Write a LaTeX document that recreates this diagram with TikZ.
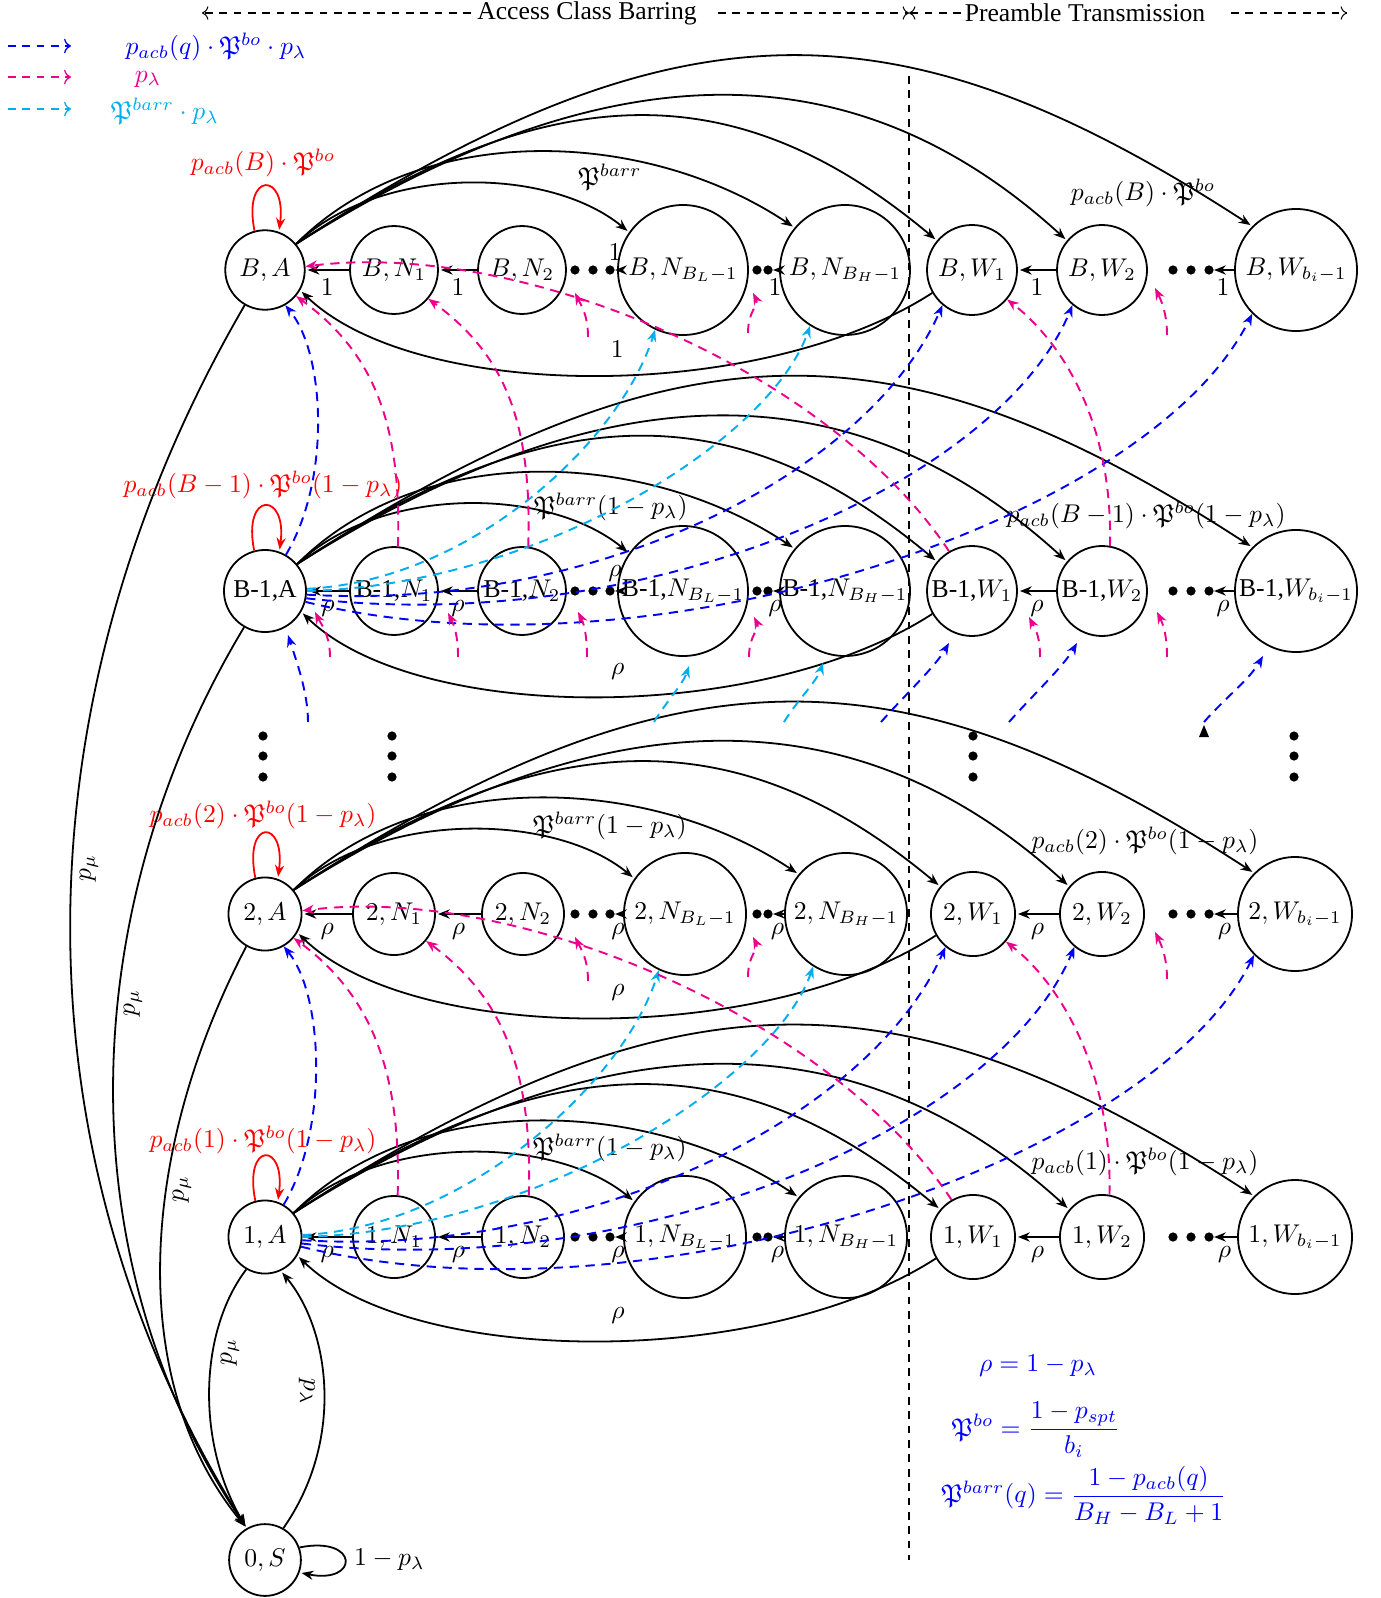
\documentclass[tikz,border=0pt]{standalone}
\usepackage{amsmath,amssymb}
\usepackage[no-math]{fontspec}
\setmainfont{Liberation Serif}
\usetikzlibrary{arrows.meta}
\definecolor{mblue}{RGB}{0,0,255}
\definecolor{mmag}{RGB}{236,0,140}
\definecolor{mcyan}{RGB}{0,174,239}
\tikzset{
  stt/.style={circle,draw,line width=0.7pt,inner sep=0pt},
  zA/.style={stt,minimum size=31pt},
  zN/.style={stt,minimum size=34.3pt},
  zL/.style={stt,minimum size=50.7pt},
  zW/.style={stt,minimum size=35.1pt},
  zX/.style={stt,minimum size=47.6pt},
  yA/.style={stt,minimum size=28.5pt},
  yN/.style={stt,minimum size=32pt},
  yL/.style={stt,minimum size=47.6pt},
  yW/.style={stt,minimum size=32.8pt},
  yX/.style={stt,minimum size=44.5pt},
  arr/.style={line width=0.7pt,-{Stealth[length=4.6pt,width=3.6pt]},shorten >=0.8pt},
  dsh/.style={line width=0.75pt,dash pattern=on 3.6pt off 2.6pt,-{Stealth[length=4.6pt,width=3.6pt]}},
  dm/.style={dsh,mmag},
  db/.style={dsh,mblue},
  dc/.style={dsh,mcyan},
  hd/.style={line width=0.4pt,dash pattern=on 3pt off 2.6pt},
  lgd/.style={line width=0.5pt,dash pattern=on 3pt off 2.6pt,->},
  lbl/.style={inner sep=1pt},
}
\begin{document}
\begin{tikzpicture}[x=0.39pt,y=-0.39pt]
\useasboundingbox (0,0) rectangle (1380,1598);

% ---------- header ----------
\node[lbl] (acb) at (587,13) {Access Class Barring};
\node[lbl] (prt) at (1085,13) {Preamble Transmission};
\coordinate (h1) at (202,13); \coordinate (h2) at (471,13);
\coordinate (h3) at (718,13); \coordinate (hm) at (909,13);
\coordinate (h4) at (961,13); \coordinate (h5) at (1231,13);
\coordinate (h6) at (1347,13);
\draw[hd,->] (h2) -- (h1);
\draw[hd,->] (h3) -- (hm);
\draw[hd,->] (h4) -- (hm);
\draw[hd,->] (h5) -- (h6);
\coordinate (vt) at (909,76); \coordinate (vb) at (909,1560);
\draw[hd] (vt) -- (vb);

% ---------- legend ----------
\coordinate (l1a) at (8,46);  \coordinate (l1b) at (71,46);
\coordinate (l2a) at (8,77);  \coordinate (l2b) at (71,77);
\coordinate (l3a) at (8,109); \coordinate (l3b) at (71,109);
\draw[lgd,mblue] (l1a) -- (l1b);
\draw[lgd,mmag] (l2a) -- (l2b);
\draw[lgd,mcyan] (l3a) -- (l3b);
\node[mblue,lbl] (lg1) at (216,47) {$p_{acb}(q)\cdot\mathfrak{P}^{bo}\cdot p_\lambda$};
\node[mmag,lbl] (lg2) at (148,79) {$p_\lambda$};
\node[mcyan,lbl] (lg3) at (165,111) {$\mathfrak{P}^{barr}\cdot p_\lambda$};

% ---------- states ----------
\node[zA] (bA)  at (265,270) {$B,A$};
\node[zN] (bN1) at (394,270) {$B,N_1$};
\node[zN] (bN2) at (522,270) {$B,N_2$};
\node[zL] (bL)  at (683,270) {$B,N_{B_L-1}$};
\node[zL] (bH)  at (845,270) {$B,N_{B_H-1}$};
\node[zW] (bW1) at (972,270) {$B,W_1$};
\node[zW] (bW2) at (1102,270) {$B,W_2$};
\node[zX] (bX)  at (1296,270) {$B,W_{b_i-1}$};

\node[zA,minimum size=32pt] (cA) at (265,591) {B-1,A};
\node[zN] (cN1) at (394,591) {B-1,$N_1$};
\node[zN] (cN2) at (522,591) {B-1,$N_2$};
\node[zL] (cL)  at (683,591) {B-1,$N_{B_L-1}$};
\node[zL] (cH)  at (845,591) {B-1,$N_{B_H-1}$};
\node[zW] (cW1) at (972,591) {B-1,$W_1$};
\node[zW] (cW2) at (1102,591) {B-1,$W_2$};
\node[zX] (cX)  at (1296,591) {B-1,$W_{b_i-1}$};

\node[yA] (tA)  at (265,914) {$2,A$};
\node[yN] (tN1) at (394,914) {$2,N_1$};
\node[yN] (tN2) at (523,914) {$2,N_2$};
\node[yL] (tL)  at (685,914) {$2,N_{B_L-1}$};
\node[yL] (tH)  at (846,914) {$2,N_{B_H-1}$};
\node[yW] (tW1) at (973,914) {$2,W_1$};
\node[yW] (tW2) at (1102,914) {$2,W_2$};
\node[yX] (tX)  at (1295,914) {$2,W_{b_i-1}$};

\node[yA] (oA)  at (265,1237) {$1,A$};
\node[yN] (oN1) at (394,1237) {$1,N_1$};
\node[yN] (oN2) at (523,1237) {$1,N_2$};
\node[yL] (oL)  at (685,1237) {$1,N_{B_L-1}$};
\node[yL] (oH)  at (846,1237) {$1,N_{B_H-1}$};
\node[yW] (oW1) at (973,1237) {$1,W_1$};
\node[yW] (oW2) at (1102,1237) {$1,W_2$};
\node[yX] (oX)  at (1295,1237) {$1,W_{b_i-1}$};

\node[stt,minimum size=28pt] (S) at (265,1560) {$0,S$};

% ---------- dots ----------
\foreach \rw/\y in {b/270,c/591,t/914,o/1237}{
  \foreach \x in {575,593,610,757,768,1173,1191,1209}
    \fill (\x,\y) circle[radius=1.8pt];
  \coordinate (\rw d1) at (613,\y);
  \coordinate (\rw d2) at (771,\y);
  \coordinate (\rw d3) at (1212,\y);
}
\foreach \x in {263,392,973,1294}
  \foreach \y in {736,756,777}
    \fill (\x,\y) circle[radius=1.8pt];

% ---------- per-row solid transitions ----------
\foreach \rw/\lb/\ps in {b/1/above,c/\rho/above,t/\rho/below,o/\rho/below}{
  \draw[arr] (\rw N1) -- node[below]{$\lb$} (\rw A);
  \draw[arr] (\rw N2) -- node[below]{$\lb$} (\rw N1);
  \draw[arr] (\rw L) -- node[\ps]{$\lb$} (\rw d1);
  \draw[arr] (\rw H) -- node[below]{$\lb$} (\rw d2);
  \draw[arr] (\rw W2) -- node[below]{$\lb$} (\rw W1);
  \draw[arr] (\rw X) -- node[below]{$\lb$} (\rw d3);
  \draw[arr] (\rw A.40) .. controls +(85,-80) and +(-80,-66) .. (\rw L.145);
  \draw[arr] (\rw A.40) .. controls +(125,-125) and +(-148,-99) .. (\rw H.140);
  \draw[arr] (\rw A.40) .. controls +(265,-175) and +(-194,-162) .. (\rw W1.140);
  \draw[arr] (\rw A.40) .. controls +(325,-205) and +(-204,-186) .. (\rw W2.140);
  \draw[arr] (\rw A.40) .. controls +(385,-250) and +(-351,-228) .. (\rw X.135);
  \draw[arr] (\rw W1.210) .. controls +(-172,111) and +(116,112) .. (\rw A.-30)
     node[pos=0.47,above=3pt]{$\lb$};
  \draw[arr,red] (\rw A.105) .. controls +(-12,-60) and +(8,-60) .. (\rw A.70);
}

% ---------- arc labels ----------
\node (bPl) at (610,177) {$\mathfrak{P}^{barr}$};
\node (bWl) at (1143,193) {$p_{acb}(B)\cdot\mathfrak{P}^{bo}$};
\node (cPl) at (611,507) {$\mathfrak{P}^{barr}(1-p_\lambda)$};
\node (cWl) at (1146,515) {$p_{acb}(B-1)\cdot\mathfrak{P}^{bo}(1-p_\lambda)$};
\node (tPl) at (610,826) {$\mathfrak{P}^{barr}(1-p_\lambda)$};
\node (tWl) at (1145,841) {$p_{acb}(2)\cdot\mathfrak{P}^{bo}(1-p_\lambda)$};
\node (oPl) at (610,1148) {$\mathfrak{P}^{barr}(1-p_\lambda)$};
\node (oWl) at (1145,1162) {$p_{acb}(1)\cdot\mathfrak{P}^{bo}(1-p_\lambda)$};

\node[red] (bRl) at (263,163) {$p_{acb}(B)\cdot\mathfrak{P}^{bo}$};
\node[red] (cRl) at (263,485) {$p_{acb}(B-1)\cdot\mathfrak{P}^{bo}(1-p_\lambda)$};
\node[red] (tRl) at (263,815) {$p_{acb}(2)\cdot\mathfrak{P}^{bo}(1-p_\lambda)$};
\node[red] (oRl) at (263,1140) {$p_{acb}(1)\cdot\mathfrak{P}^{bo}(1-p_\lambda)$};

% ---------- to / from idle state ----------
\draw[arr] (bA.240) .. controls (15,700) and (10,1150) .. (S.120);
\draw[arr] (cA.240) .. controls (80,900) and (60,1250) .. (S.120);
\draw[arr] (tA.240) .. controls (140,1150) and (125,1380) .. (S.120);
\draw[arr] (oA.240) .. controls (200,1330) and (195,1440) .. (S.120);
\draw[arr] (S.60) .. controls (345,1440) and (330,1330) .. (oA.-65);
\draw[arr] (S.20) .. controls +(60,-12) and +(60,12) .. (S.-20)
   node[pos=0.5,right]{$1-p_\lambda$};
\node[rotate=90] (pm1) at (89,868) {$p_\mu$};
\node[rotate=90] (pm2) at (133,1003) {$p_\mu$};
\node[rotate=90] (pm3) at (182,1189) {$p_\mu$};
\node[rotate=90] (pm4) at (230,1352) {$p_\mu$};
\node[rotate=-90] (plm) at (307,1392) {$p_\lambda$};

% ---------- dashed transitions between levels ----------
\foreach \lw/\uw in {c/b,o/t}{
  \draw[db] (\lw A.60) .. controls +(45,-75) and +(40,49) .. (\uw A.-60);
  \draw[dc] (\lw A.3) .. controls +(165,-8) and +(-35,111) .. (\uw L.-115);
  \draw[dc] (\lw A.0) .. controls +(234,-6) and +(-40,114) .. (\uw H.-122);
  \draw[db] (\lw A.-5) .. controls +(294,17) and +(-73,166) .. (\uw W1.-130);
  \draw[db] (\lw A.-10) .. controls +(345,40) and +(-73,176) .. (\uw W2.-130);
  \draw[db] (\lw A.-15) .. controls +(346,85) and +(-103,207) .. (\uw X.-135);
  \draw[dm] (\lw N1.85) .. controls +(4,-127) and +(75,55) .. (\uw A.-40);
  \draw[dm] (\lw N2.82) .. controls +(4,-127) and +(75,55) .. (\uw N1.-40);
  \draw[dm] (\lw W2.80) .. controls +(3,-126) and +(53,41) .. (\uw W1.-40);
  \draw[dm] (\lw W1.120) .. controls +(-120,-181) and +(216,-27) .. (\uw A.5);
}

% stubs into the upper rows (from states not drawn)
\foreach \uw/\y in {b/270,t/914}{
  \foreach \q/\xa/\dya/\xb/\dyb in {1/588/67/575/23,2/748/63/753/23,3/1167/65/1155/18}{
    \coordinate (\uw s\q a) at (\xa,\y+\dya);
    \coordinate (\uw s\q b) at (\xb,\y+\dyb);
    \draw[dm] (\uw s\q a) .. controls +(0,-22) and +(6,12) .. (\uw s\q b);
  }
}
% stubs into row B-1 (from level B-2, not drawn)
\foreach \q/\xa/\xb/\yb in {1/330/315/612,2/458/448/613,3/587/578/612,4/749/754/617,5/1040/1029/617,6/1167/1157/612}{
  \coordinate (cm\q a) at (\xa,657);
  \coordinate (cm\q b) at (\xb,\yb);
  \draw[dm] (cm\q a) .. controls +(0,-22) and +(6,12) .. (cm\q b);
}
\foreach \q/\xb/\yb in {1/288/635,2/949/643,3/1077/643,4/1263/656}{
  \coordinate (cb\q b) at (\xb,\yb);
}
\coordinate (cb1a) at (308,722);
\coordinate (cb2a) at (881,722);
\coordinate (cb3a) at (1009,722);
\coordinate (cb4a) at (1204,722);
\draw[db] (cb1a) .. controls +(0,-30) and +(8,25) .. (cb1b);
\draw[db] (cb2a) .. controls +(22,-25) and +(-14,24) .. (cb2b);
\draw[db] (cb3a) .. controls +(22,-25) and +(-14,24) .. (cb3b);
\draw[db] (cb4a) .. controls +(22,-25) and +(-14,24) .. (cb4b);
\coordinate (cc1a) at (654,722); \coordinate (cc1b) at (689,666);
\coordinate (cc2a) at (784,722); \coordinate (cc2b) at (823,663);
\draw[dc] (cc1a) .. controls +(12,-20) and +(-6,18) .. (cc1b);
\draw[dc] (cc2a) .. controls +(12,-20) and +(-6,18) .. (cc2b);
\fill (1199,737) -- (1204,725) -- (1209,737) -- cycle;

% ---------- definitions ----------
\node[mblue] (f1) at (1038,1366) {$\rho=1-p_\lambda$};
\node[mblue] (f2) at (1036,1430) {$\mathfrak{P}^{bo}=\dfrac{1-p_{spt}}{b_i}$};
\node[mblue] (f3) at (1084,1495) {$\mathfrak{P}^{barr}(q)=\dfrac{1-p_{acb}(q)}{B_H-B_L+1}$};
\end{tikzpicture}
\end{document}
